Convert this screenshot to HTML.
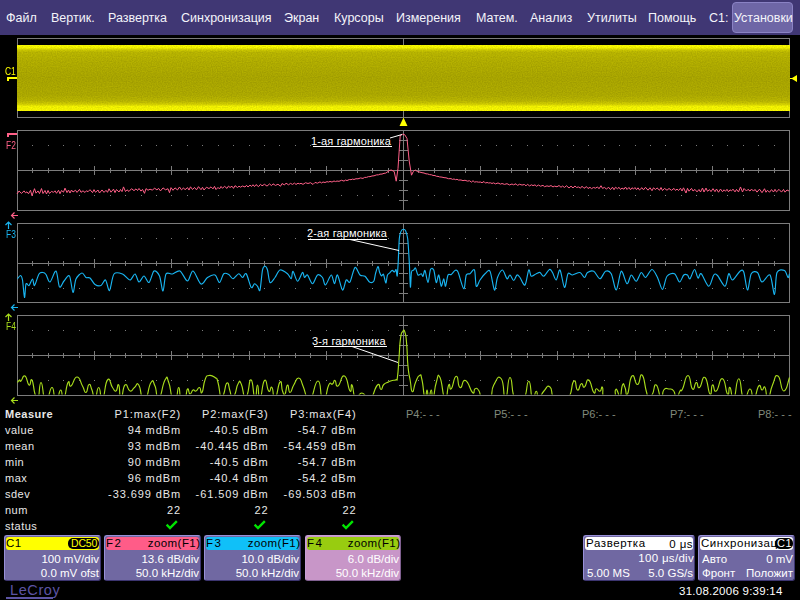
<!DOCTYPE html>
<html><head><meta charset="utf-8">
<style>
html,body{margin:0;padding:0;background:#000;}
body{width:800px;height:600px;position:relative;overflow:hidden;font-family:"Liberation Sans",sans-serif;}
.a{position:absolute;white-space:nowrap;}
#menu{left:0;top:0;width:800px;height:35px;background:#403774;}
.mi{position:absolute;top:10px;font-size:12.5px;color:#f4f4fa;white-space:nowrap;line-height:16px;}
#btn{left:732px;top:2px;width:59px;height:29px;background:#6e66a6;border:1px solid #8a82c4;border-radius:4px;box-sizing:border-box;width:61px;height:31px;}
.lbl{position:absolute;font-size:10.8px;line-height:10px;white-space:nowrap;transform:scaleX(0.78);transform-origin:0 0;}
.ms{position:absolute;font-size:11px;line-height:12px;color:#e8e8e8;white-space:nowrap;letter-spacing:0.5px;}
.r{text-align:right;}
.pn{position:absolute;font-size:11px;line-height:12px;color:#808a7c;white-space:nowrap;}
.box{position:absolute;top:535px;height:46px;background:#7068a2;border-radius:3px;box-sizing:border-box;border:1px solid #9890d8;border-right-color:#3c3570;border-bottom-color:#3c3570;overflow:hidden;}
.hd{position:absolute;left:1px;top:1px;right:1px;height:13px;border-radius:3px;}
.bt{position:absolute;font-size:11.5px;line-height:13px;color:#fff;white-space:nowrap;}
.ht{position:absolute;font-size:11.5px;line-height:13px;color:#000;white-space:nowrap;top:1px;letter-spacing:0.45px;}
</style></head><body>
<div id="menu" class="a"></div>
<div class="mi" style="left:6px">Файл</div>
<div class="mi" style="left:51px">Вертик.</div>
<div class="mi" style="left:108px">Развертка</div>
<div class="mi" style="left:181px">Синхронизация</div>
<div class="mi" style="left:284px">Экран</div>
<div class="mi" style="left:334px">Курсоры</div>
<div class="mi" style="left:396px">Измерения</div>
<div class="mi" style="left:476px">Матем.</div>
<div class="mi" style="left:530px">Анализ</div>
<div class="mi" style="left:587px">Утилиты</div>
<div class="mi" style="left:648px">Помощь</div>
<div class="mi" style="left:709px">C1:</div>
<div id="btn" class="a"></div>
<div class="mi" style="left:734px">Установки</div>

<svg class="a" style="left:0;top:0" width="800" height="600" viewBox="0 0 800 600">
<defs>
<clipPath id="c4"><rect x="17" y="316" width="773" height="78.6"/></clipPath>
<linearGradient id="yg" x1="0" y1="0" x2="0" y2="1">
<stop offset="0" stop-color="#ffff00"/>
<stop offset="0.04" stop-color="#fcfc00"/>
<stop offset="0.075" stop-color="#d4d000"/>
<stop offset="0.11" stop-color="#c0bc00"/>
<stop offset="0.25" stop-color="#b8b400"/>
<stop offset="0.5" stop-color="#b0ac00"/>
<stop offset="0.76" stop-color="#b4b000"/>
<stop offset="0.85" stop-color="#c0bc00"/>
<stop offset="0.9" stop-color="#dcd800"/>
<stop offset="0.93" stop-color="#fafa00"/>
<stop offset="1" stop-color="#ffff00"/>
</linearGradient>
<filter id="nz" x="17" y="45" width="773" height="66" filterUnits="userSpaceOnUse">
<feTurbulence type="fractalNoise" baseFrequency="0.8" numOctaves="1" seed="5"/>
<feColorMatrix type="matrix" values="0 0 0 0 0  0 0 0 0 0  0 0 0 0 0  0.22 0 0 0 -0.06"/>
</filter>
</defs>
<rect x="17.5" y="38.5" width="772" height="79" fill="none" stroke="#7c7c7c" stroke-width="1"/>
<line x1="403.5" y1="38" x2="403.5" y2="117" stroke="#7c7c7c"/>
<rect x="17.5" y="130.5" width="772" height="80" fill="none" stroke="#7c7c7c" stroke-width="1"/>
<line x1="17" y1="170.5" x2="789" y2="170.5" stroke="#7c7c7c"/>
<line x1="32.5" y1="168" x2="32.5" y2="173" stroke="#7c7c7c"/>
<rect x="32" y="145" width="1" height="1" fill="#7c7c7c"/>
<rect x="32" y="195" width="1" height="1" fill="#7c7c7c"/>
<line x1="48.5" y1="168" x2="48.5" y2="173" stroke="#7c7c7c"/>
<rect x="48" y="145" width="1" height="1" fill="#7c7c7c"/>
<rect x="48" y="195" width="1" height="1" fill="#7c7c7c"/>
<line x1="63.5" y1="168" x2="63.5" y2="173" stroke="#7c7c7c"/>
<rect x="63" y="145" width="1" height="1" fill="#7c7c7c"/>
<rect x="63" y="195" width="1" height="1" fill="#7c7c7c"/>
<line x1="79.5" y1="168" x2="79.5" y2="173" stroke="#7c7c7c"/>
<rect x="79" y="145" width="1" height="1" fill="#7c7c7c"/>
<rect x="79" y="195" width="1" height="1" fill="#7c7c7c"/>
<line x1="94.5" y1="166" x2="94.5" y2="175" stroke="#7c7c7c"/>
<rect x="94" y="145" width="1" height="1" fill="#7c7c7c"/>
<rect x="94" y="195" width="1" height="1" fill="#7c7c7c"/>
<line x1="110.5" y1="168" x2="110.5" y2="173" stroke="#7c7c7c"/>
<rect x="110" y="145" width="1" height="1" fill="#7c7c7c"/>
<rect x="110" y="195" width="1" height="1" fill="#7c7c7c"/>
<line x1="125.5" y1="168" x2="125.5" y2="173" stroke="#7c7c7c"/>
<rect x="125" y="145" width="1" height="1" fill="#7c7c7c"/>
<rect x="125" y="195" width="1" height="1" fill="#7c7c7c"/>
<line x1="141.5" y1="168" x2="141.5" y2="173" stroke="#7c7c7c"/>
<rect x="141" y="145" width="1" height="1" fill="#7c7c7c"/>
<rect x="141" y="195" width="1" height="1" fill="#7c7c7c"/>
<line x1="156.5" y1="168" x2="156.5" y2="173" stroke="#7c7c7c"/>
<rect x="156" y="145" width="1" height="1" fill="#7c7c7c"/>
<rect x="156" y="195" width="1" height="1" fill="#7c7c7c"/>
<line x1="171.5" y1="166" x2="171.5" y2="175" stroke="#7c7c7c"/>
<rect x="171" y="145" width="1" height="1" fill="#7c7c7c"/>
<rect x="171" y="195" width="1" height="1" fill="#7c7c7c"/>
<line x1="187.5" y1="168" x2="187.5" y2="173" stroke="#7c7c7c"/>
<rect x="187" y="145" width="1" height="1" fill="#7c7c7c"/>
<rect x="187" y="195" width="1" height="1" fill="#7c7c7c"/>
<line x1="202.5" y1="168" x2="202.5" y2="173" stroke="#7c7c7c"/>
<rect x="202" y="145" width="1" height="1" fill="#7c7c7c"/>
<rect x="202" y="195" width="1" height="1" fill="#7c7c7c"/>
<line x1="218.5" y1="168" x2="218.5" y2="173" stroke="#7c7c7c"/>
<rect x="218" y="145" width="1" height="1" fill="#7c7c7c"/>
<rect x="218" y="195" width="1" height="1" fill="#7c7c7c"/>
<line x1="233.5" y1="168" x2="233.5" y2="173" stroke="#7c7c7c"/>
<rect x="233" y="145" width="1" height="1" fill="#7c7c7c"/>
<rect x="233" y="195" width="1" height="1" fill="#7c7c7c"/>
<line x1="249.5" y1="166" x2="249.5" y2="175" stroke="#7c7c7c"/>
<rect x="249" y="145" width="1" height="1" fill="#7c7c7c"/>
<rect x="249" y="195" width="1" height="1" fill="#7c7c7c"/>
<line x1="264.5" y1="168" x2="264.5" y2="173" stroke="#7c7c7c"/>
<rect x="264" y="145" width="1" height="1" fill="#7c7c7c"/>
<rect x="264" y="195" width="1" height="1" fill="#7c7c7c"/>
<line x1="279.5" y1="168" x2="279.5" y2="173" stroke="#7c7c7c"/>
<rect x="279" y="145" width="1" height="1" fill="#7c7c7c"/>
<rect x="279" y="195" width="1" height="1" fill="#7c7c7c"/>
<line x1="295.5" y1="168" x2="295.5" y2="173" stroke="#7c7c7c"/>
<rect x="295" y="145" width="1" height="1" fill="#7c7c7c"/>
<rect x="295" y="195" width="1" height="1" fill="#7c7c7c"/>
<line x1="310.5" y1="168" x2="310.5" y2="173" stroke="#7c7c7c"/>
<rect x="310" y="145" width="1" height="1" fill="#7c7c7c"/>
<rect x="310" y="195" width="1" height="1" fill="#7c7c7c"/>
<line x1="326.5" y1="166" x2="326.5" y2="175" stroke="#7c7c7c"/>
<rect x="326" y="145" width="1" height="1" fill="#7c7c7c"/>
<rect x="326" y="195" width="1" height="1" fill="#7c7c7c"/>
<line x1="341.5" y1="168" x2="341.5" y2="173" stroke="#7c7c7c"/>
<rect x="341" y="145" width="1" height="1" fill="#7c7c7c"/>
<rect x="341" y="195" width="1" height="1" fill="#7c7c7c"/>
<line x1="357.5" y1="168" x2="357.5" y2="173" stroke="#7c7c7c"/>
<rect x="357" y="145" width="1" height="1" fill="#7c7c7c"/>
<rect x="357" y="195" width="1" height="1" fill="#7c7c7c"/>
<line x1="372.5" y1="168" x2="372.5" y2="173" stroke="#7c7c7c"/>
<rect x="372" y="145" width="1" height="1" fill="#7c7c7c"/>
<rect x="372" y="195" width="1" height="1" fill="#7c7c7c"/>
<line x1="388.5" y1="168" x2="388.5" y2="173" stroke="#7c7c7c"/>
<rect x="388" y="145" width="1" height="1" fill="#7c7c7c"/>
<rect x="388" y="195" width="1" height="1" fill="#7c7c7c"/>
<rect x="403" y="145" width="1" height="1" fill="#7c7c7c"/>
<rect x="403" y="195" width="1" height="1" fill="#7c7c7c"/>
<line x1="418.5" y1="168" x2="418.5" y2="173" stroke="#7c7c7c"/>
<rect x="418" y="145" width="1" height="1" fill="#7c7c7c"/>
<rect x="418" y="195" width="1" height="1" fill="#7c7c7c"/>
<line x1="434.5" y1="168" x2="434.5" y2="173" stroke="#7c7c7c"/>
<rect x="434" y="145" width="1" height="1" fill="#7c7c7c"/>
<rect x="434" y="195" width="1" height="1" fill="#7c7c7c"/>
<line x1="449.5" y1="168" x2="449.5" y2="173" stroke="#7c7c7c"/>
<rect x="449" y="145" width="1" height="1" fill="#7c7c7c"/>
<rect x="449" y="195" width="1" height="1" fill="#7c7c7c"/>
<line x1="465.5" y1="168" x2="465.5" y2="173" stroke="#7c7c7c"/>
<rect x="465" y="145" width="1" height="1" fill="#7c7c7c"/>
<rect x="465" y="195" width="1" height="1" fill="#7c7c7c"/>
<line x1="480.5" y1="166" x2="480.5" y2="175" stroke="#7c7c7c"/>
<rect x="480" y="145" width="1" height="1" fill="#7c7c7c"/>
<rect x="480" y="195" width="1" height="1" fill="#7c7c7c"/>
<line x1="496.5" y1="168" x2="496.5" y2="173" stroke="#7c7c7c"/>
<rect x="496" y="145" width="1" height="1" fill="#7c7c7c"/>
<rect x="496" y="195" width="1" height="1" fill="#7c7c7c"/>
<line x1="511.5" y1="168" x2="511.5" y2="173" stroke="#7c7c7c"/>
<rect x="511" y="145" width="1" height="1" fill="#7c7c7c"/>
<rect x="511" y="195" width="1" height="1" fill="#7c7c7c"/>
<line x1="527.5" y1="168" x2="527.5" y2="173" stroke="#7c7c7c"/>
<rect x="527" y="145" width="1" height="1" fill="#7c7c7c"/>
<rect x="527" y="195" width="1" height="1" fill="#7c7c7c"/>
<line x1="542.5" y1="168" x2="542.5" y2="173" stroke="#7c7c7c"/>
<rect x="542" y="145" width="1" height="1" fill="#7c7c7c"/>
<rect x="542" y="195" width="1" height="1" fill="#7c7c7c"/>
<line x1="557.5" y1="166" x2="557.5" y2="175" stroke="#7c7c7c"/>
<rect x="557" y="145" width="1" height="1" fill="#7c7c7c"/>
<rect x="557" y="195" width="1" height="1" fill="#7c7c7c"/>
<line x1="573.5" y1="168" x2="573.5" y2="173" stroke="#7c7c7c"/>
<rect x="573" y="145" width="1" height="1" fill="#7c7c7c"/>
<rect x="573" y="195" width="1" height="1" fill="#7c7c7c"/>
<line x1="588.5" y1="168" x2="588.5" y2="173" stroke="#7c7c7c"/>
<rect x="588" y="145" width="1" height="1" fill="#7c7c7c"/>
<rect x="588" y="195" width="1" height="1" fill="#7c7c7c"/>
<line x1="604.5" y1="168" x2="604.5" y2="173" stroke="#7c7c7c"/>
<rect x="604" y="145" width="1" height="1" fill="#7c7c7c"/>
<rect x="604" y="195" width="1" height="1" fill="#7c7c7c"/>
<line x1="619.5" y1="168" x2="619.5" y2="173" stroke="#7c7c7c"/>
<rect x="619" y="145" width="1" height="1" fill="#7c7c7c"/>
<rect x="619" y="195" width="1" height="1" fill="#7c7c7c"/>
<line x1="635.5" y1="166" x2="635.5" y2="175" stroke="#7c7c7c"/>
<rect x="635" y="145" width="1" height="1" fill="#7c7c7c"/>
<rect x="635" y="195" width="1" height="1" fill="#7c7c7c"/>
<line x1="650.5" y1="168" x2="650.5" y2="173" stroke="#7c7c7c"/>
<rect x="650" y="145" width="1" height="1" fill="#7c7c7c"/>
<rect x="650" y="195" width="1" height="1" fill="#7c7c7c"/>
<line x1="665.5" y1="168" x2="665.5" y2="173" stroke="#7c7c7c"/>
<rect x="665" y="145" width="1" height="1" fill="#7c7c7c"/>
<rect x="665" y="195" width="1" height="1" fill="#7c7c7c"/>
<line x1="681.5" y1="168" x2="681.5" y2="173" stroke="#7c7c7c"/>
<rect x="681" y="145" width="1" height="1" fill="#7c7c7c"/>
<rect x="681" y="195" width="1" height="1" fill="#7c7c7c"/>
<line x1="696.5" y1="168" x2="696.5" y2="173" stroke="#7c7c7c"/>
<rect x="696" y="145" width="1" height="1" fill="#7c7c7c"/>
<rect x="696" y="195" width="1" height="1" fill="#7c7c7c"/>
<line x1="712.5" y1="166" x2="712.5" y2="175" stroke="#7c7c7c"/>
<rect x="712" y="145" width="1" height="1" fill="#7c7c7c"/>
<rect x="712" y="195" width="1" height="1" fill="#7c7c7c"/>
<line x1="727.5" y1="168" x2="727.5" y2="173" stroke="#7c7c7c"/>
<rect x="727" y="145" width="1" height="1" fill="#7c7c7c"/>
<rect x="727" y="195" width="1" height="1" fill="#7c7c7c"/>
<line x1="743.5" y1="168" x2="743.5" y2="173" stroke="#7c7c7c"/>
<rect x="743" y="145" width="1" height="1" fill="#7c7c7c"/>
<rect x="743" y="195" width="1" height="1" fill="#7c7c7c"/>
<line x1="758.5" y1="168" x2="758.5" y2="173" stroke="#7c7c7c"/>
<rect x="758" y="145" width="1" height="1" fill="#7c7c7c"/>
<rect x="758" y="195" width="1" height="1" fill="#7c7c7c"/>
<line x1="774.5" y1="168" x2="774.5" y2="173" stroke="#7c7c7c"/>
<rect x="774" y="145" width="1" height="1" fill="#7c7c7c"/>
<rect x="774" y="195" width="1" height="1" fill="#7c7c7c"/>
<line x1="403.5" y1="130" x2="403.5" y2="210" stroke="#7c7c7c"/>
<line x1="399" y1="140.5" x2="408" y2="140.5" stroke="#7c7c7c"/>
<line x1="399" y1="150.5" x2="408" y2="150.5" stroke="#7c7c7c"/>
<line x1="399" y1="160.5" x2="408" y2="160.5" stroke="#7c7c7c"/>
<line x1="399" y1="180.5" x2="408" y2="180.5" stroke="#7c7c7c"/>
<line x1="399" y1="190.5" x2="408" y2="190.5" stroke="#7c7c7c"/>
<line x1="399" y1="200.5" x2="408" y2="200.5" stroke="#7c7c7c"/>
<rect x="17.5" y="223.5" width="772" height="79" fill="none" stroke="#7c7c7c" stroke-width="1"/>
<line x1="17" y1="263.5" x2="789" y2="263.5" stroke="#7c7c7c"/>
<line x1="32.5" y1="261" x2="32.5" y2="266" stroke="#7c7c7c"/>
<rect x="32" y="238" width="1" height="1" fill="#7c7c7c"/>
<rect x="32" y="288" width="1" height="1" fill="#7c7c7c"/>
<line x1="48.5" y1="261" x2="48.5" y2="266" stroke="#7c7c7c"/>
<rect x="48" y="238" width="1" height="1" fill="#7c7c7c"/>
<rect x="48" y="288" width="1" height="1" fill="#7c7c7c"/>
<line x1="63.5" y1="261" x2="63.5" y2="266" stroke="#7c7c7c"/>
<rect x="63" y="238" width="1" height="1" fill="#7c7c7c"/>
<rect x="63" y="288" width="1" height="1" fill="#7c7c7c"/>
<line x1="79.5" y1="261" x2="79.5" y2="266" stroke="#7c7c7c"/>
<rect x="79" y="238" width="1" height="1" fill="#7c7c7c"/>
<rect x="79" y="288" width="1" height="1" fill="#7c7c7c"/>
<line x1="94.5" y1="259" x2="94.5" y2="268" stroke="#7c7c7c"/>
<rect x="94" y="238" width="1" height="1" fill="#7c7c7c"/>
<rect x="94" y="288" width="1" height="1" fill="#7c7c7c"/>
<line x1="110.5" y1="261" x2="110.5" y2="266" stroke="#7c7c7c"/>
<rect x="110" y="238" width="1" height="1" fill="#7c7c7c"/>
<rect x="110" y="288" width="1" height="1" fill="#7c7c7c"/>
<line x1="125.5" y1="261" x2="125.5" y2="266" stroke="#7c7c7c"/>
<rect x="125" y="238" width="1" height="1" fill="#7c7c7c"/>
<rect x="125" y="288" width="1" height="1" fill="#7c7c7c"/>
<line x1="141.5" y1="261" x2="141.5" y2="266" stroke="#7c7c7c"/>
<rect x="141" y="238" width="1" height="1" fill="#7c7c7c"/>
<rect x="141" y="288" width="1" height="1" fill="#7c7c7c"/>
<line x1="156.5" y1="261" x2="156.5" y2="266" stroke="#7c7c7c"/>
<rect x="156" y="238" width="1" height="1" fill="#7c7c7c"/>
<rect x="156" y="288" width="1" height="1" fill="#7c7c7c"/>
<line x1="171.5" y1="259" x2="171.5" y2="268" stroke="#7c7c7c"/>
<rect x="171" y="238" width="1" height="1" fill="#7c7c7c"/>
<rect x="171" y="288" width="1" height="1" fill="#7c7c7c"/>
<line x1="187.5" y1="261" x2="187.5" y2="266" stroke="#7c7c7c"/>
<rect x="187" y="238" width="1" height="1" fill="#7c7c7c"/>
<rect x="187" y="288" width="1" height="1" fill="#7c7c7c"/>
<line x1="202.5" y1="261" x2="202.5" y2="266" stroke="#7c7c7c"/>
<rect x="202" y="238" width="1" height="1" fill="#7c7c7c"/>
<rect x="202" y="288" width="1" height="1" fill="#7c7c7c"/>
<line x1="218.5" y1="261" x2="218.5" y2="266" stroke="#7c7c7c"/>
<rect x="218" y="238" width="1" height="1" fill="#7c7c7c"/>
<rect x="218" y="288" width="1" height="1" fill="#7c7c7c"/>
<line x1="233.5" y1="261" x2="233.5" y2="266" stroke="#7c7c7c"/>
<rect x="233" y="238" width="1" height="1" fill="#7c7c7c"/>
<rect x="233" y="288" width="1" height="1" fill="#7c7c7c"/>
<line x1="249.5" y1="259" x2="249.5" y2="268" stroke="#7c7c7c"/>
<rect x="249" y="238" width="1" height="1" fill="#7c7c7c"/>
<rect x="249" y="288" width="1" height="1" fill="#7c7c7c"/>
<line x1="264.5" y1="261" x2="264.5" y2="266" stroke="#7c7c7c"/>
<rect x="264" y="238" width="1" height="1" fill="#7c7c7c"/>
<rect x="264" y="288" width="1" height="1" fill="#7c7c7c"/>
<line x1="279.5" y1="261" x2="279.5" y2="266" stroke="#7c7c7c"/>
<rect x="279" y="238" width="1" height="1" fill="#7c7c7c"/>
<rect x="279" y="288" width="1" height="1" fill="#7c7c7c"/>
<line x1="295.5" y1="261" x2="295.5" y2="266" stroke="#7c7c7c"/>
<rect x="295" y="238" width="1" height="1" fill="#7c7c7c"/>
<rect x="295" y="288" width="1" height="1" fill="#7c7c7c"/>
<line x1="310.5" y1="261" x2="310.5" y2="266" stroke="#7c7c7c"/>
<rect x="310" y="238" width="1" height="1" fill="#7c7c7c"/>
<rect x="310" y="288" width="1" height="1" fill="#7c7c7c"/>
<line x1="326.5" y1="259" x2="326.5" y2="268" stroke="#7c7c7c"/>
<rect x="326" y="238" width="1" height="1" fill="#7c7c7c"/>
<rect x="326" y="288" width="1" height="1" fill="#7c7c7c"/>
<line x1="341.5" y1="261" x2="341.5" y2="266" stroke="#7c7c7c"/>
<rect x="341" y="238" width="1" height="1" fill="#7c7c7c"/>
<rect x="341" y="288" width="1" height="1" fill="#7c7c7c"/>
<line x1="357.5" y1="261" x2="357.5" y2="266" stroke="#7c7c7c"/>
<rect x="357" y="238" width="1" height="1" fill="#7c7c7c"/>
<rect x="357" y="288" width="1" height="1" fill="#7c7c7c"/>
<line x1="372.5" y1="261" x2="372.5" y2="266" stroke="#7c7c7c"/>
<rect x="372" y="238" width="1" height="1" fill="#7c7c7c"/>
<rect x="372" y="288" width="1" height="1" fill="#7c7c7c"/>
<line x1="388.5" y1="261" x2="388.5" y2="266" stroke="#7c7c7c"/>
<rect x="388" y="238" width="1" height="1" fill="#7c7c7c"/>
<rect x="388" y="288" width="1" height="1" fill="#7c7c7c"/>
<rect x="403" y="238" width="1" height="1" fill="#7c7c7c"/>
<rect x="403" y="288" width="1" height="1" fill="#7c7c7c"/>
<line x1="418.5" y1="261" x2="418.5" y2="266" stroke="#7c7c7c"/>
<rect x="418" y="238" width="1" height="1" fill="#7c7c7c"/>
<rect x="418" y="288" width="1" height="1" fill="#7c7c7c"/>
<line x1="434.5" y1="261" x2="434.5" y2="266" stroke="#7c7c7c"/>
<rect x="434" y="238" width="1" height="1" fill="#7c7c7c"/>
<rect x="434" y="288" width="1" height="1" fill="#7c7c7c"/>
<line x1="449.5" y1="261" x2="449.5" y2="266" stroke="#7c7c7c"/>
<rect x="449" y="238" width="1" height="1" fill="#7c7c7c"/>
<rect x="449" y="288" width="1" height="1" fill="#7c7c7c"/>
<line x1="465.5" y1="261" x2="465.5" y2="266" stroke="#7c7c7c"/>
<rect x="465" y="238" width="1" height="1" fill="#7c7c7c"/>
<rect x="465" y="288" width="1" height="1" fill="#7c7c7c"/>
<line x1="480.5" y1="259" x2="480.5" y2="268" stroke="#7c7c7c"/>
<rect x="480" y="238" width="1" height="1" fill="#7c7c7c"/>
<rect x="480" y="288" width="1" height="1" fill="#7c7c7c"/>
<line x1="496.5" y1="261" x2="496.5" y2="266" stroke="#7c7c7c"/>
<rect x="496" y="238" width="1" height="1" fill="#7c7c7c"/>
<rect x="496" y="288" width="1" height="1" fill="#7c7c7c"/>
<line x1="511.5" y1="261" x2="511.5" y2="266" stroke="#7c7c7c"/>
<rect x="511" y="238" width="1" height="1" fill="#7c7c7c"/>
<rect x="511" y="288" width="1" height="1" fill="#7c7c7c"/>
<line x1="527.5" y1="261" x2="527.5" y2="266" stroke="#7c7c7c"/>
<rect x="527" y="238" width="1" height="1" fill="#7c7c7c"/>
<rect x="527" y="288" width="1" height="1" fill="#7c7c7c"/>
<line x1="542.5" y1="261" x2="542.5" y2="266" stroke="#7c7c7c"/>
<rect x="542" y="238" width="1" height="1" fill="#7c7c7c"/>
<rect x="542" y="288" width="1" height="1" fill="#7c7c7c"/>
<line x1="557.5" y1="259" x2="557.5" y2="268" stroke="#7c7c7c"/>
<rect x="557" y="238" width="1" height="1" fill="#7c7c7c"/>
<rect x="557" y="288" width="1" height="1" fill="#7c7c7c"/>
<line x1="573.5" y1="261" x2="573.5" y2="266" stroke="#7c7c7c"/>
<rect x="573" y="238" width="1" height="1" fill="#7c7c7c"/>
<rect x="573" y="288" width="1" height="1" fill="#7c7c7c"/>
<line x1="588.5" y1="261" x2="588.5" y2="266" stroke="#7c7c7c"/>
<rect x="588" y="238" width="1" height="1" fill="#7c7c7c"/>
<rect x="588" y="288" width="1" height="1" fill="#7c7c7c"/>
<line x1="604.5" y1="261" x2="604.5" y2="266" stroke="#7c7c7c"/>
<rect x="604" y="238" width="1" height="1" fill="#7c7c7c"/>
<rect x="604" y="288" width="1" height="1" fill="#7c7c7c"/>
<line x1="619.5" y1="261" x2="619.5" y2="266" stroke="#7c7c7c"/>
<rect x="619" y="238" width="1" height="1" fill="#7c7c7c"/>
<rect x="619" y="288" width="1" height="1" fill="#7c7c7c"/>
<line x1="635.5" y1="259" x2="635.5" y2="268" stroke="#7c7c7c"/>
<rect x="635" y="238" width="1" height="1" fill="#7c7c7c"/>
<rect x="635" y="288" width="1" height="1" fill="#7c7c7c"/>
<line x1="650.5" y1="261" x2="650.5" y2="266" stroke="#7c7c7c"/>
<rect x="650" y="238" width="1" height="1" fill="#7c7c7c"/>
<rect x="650" y="288" width="1" height="1" fill="#7c7c7c"/>
<line x1="665.5" y1="261" x2="665.5" y2="266" stroke="#7c7c7c"/>
<rect x="665" y="238" width="1" height="1" fill="#7c7c7c"/>
<rect x="665" y="288" width="1" height="1" fill="#7c7c7c"/>
<line x1="681.5" y1="261" x2="681.5" y2="266" stroke="#7c7c7c"/>
<rect x="681" y="238" width="1" height="1" fill="#7c7c7c"/>
<rect x="681" y="288" width="1" height="1" fill="#7c7c7c"/>
<line x1="696.5" y1="261" x2="696.5" y2="266" stroke="#7c7c7c"/>
<rect x="696" y="238" width="1" height="1" fill="#7c7c7c"/>
<rect x="696" y="288" width="1" height="1" fill="#7c7c7c"/>
<line x1="712.5" y1="259" x2="712.5" y2="268" stroke="#7c7c7c"/>
<rect x="712" y="238" width="1" height="1" fill="#7c7c7c"/>
<rect x="712" y="288" width="1" height="1" fill="#7c7c7c"/>
<line x1="727.5" y1="261" x2="727.5" y2="266" stroke="#7c7c7c"/>
<rect x="727" y="238" width="1" height="1" fill="#7c7c7c"/>
<rect x="727" y="288" width="1" height="1" fill="#7c7c7c"/>
<line x1="743.5" y1="261" x2="743.5" y2="266" stroke="#7c7c7c"/>
<rect x="743" y="238" width="1" height="1" fill="#7c7c7c"/>
<rect x="743" y="288" width="1" height="1" fill="#7c7c7c"/>
<line x1="758.5" y1="261" x2="758.5" y2="266" stroke="#7c7c7c"/>
<rect x="758" y="238" width="1" height="1" fill="#7c7c7c"/>
<rect x="758" y="288" width="1" height="1" fill="#7c7c7c"/>
<line x1="774.5" y1="261" x2="774.5" y2="266" stroke="#7c7c7c"/>
<rect x="774" y="238" width="1" height="1" fill="#7c7c7c"/>
<rect x="774" y="288" width="1" height="1" fill="#7c7c7c"/>
<line x1="403.5" y1="223" x2="403.5" y2="302" stroke="#7c7c7c"/>
<line x1="399" y1="233.5" x2="408" y2="233.5" stroke="#7c7c7c"/>
<line x1="399" y1="243.5" x2="408" y2="243.5" stroke="#7c7c7c"/>
<line x1="399" y1="253.5" x2="408" y2="253.5" stroke="#7c7c7c"/>
<line x1="399" y1="273.5" x2="408" y2="273.5" stroke="#7c7c7c"/>
<line x1="399" y1="283.5" x2="408" y2="283.5" stroke="#7c7c7c"/>
<line x1="399" y1="293.5" x2="408" y2="293.5" stroke="#7c7c7c"/>
<rect x="17.5" y="315.5" width="772" height="80" fill="none" stroke="#7c7c7c" stroke-width="1"/>
<line x1="17" y1="355.5" x2="789" y2="355.5" stroke="#7c7c7c"/>
<line x1="32.5" y1="353" x2="32.5" y2="358" stroke="#7c7c7c"/>
<rect x="32" y="330" width="1" height="1" fill="#7c7c7c"/>
<rect x="32" y="380" width="1" height="1" fill="#7c7c7c"/>
<line x1="48.5" y1="353" x2="48.5" y2="358" stroke="#7c7c7c"/>
<rect x="48" y="330" width="1" height="1" fill="#7c7c7c"/>
<rect x="48" y="380" width="1" height="1" fill="#7c7c7c"/>
<line x1="63.5" y1="353" x2="63.5" y2="358" stroke="#7c7c7c"/>
<rect x="63" y="330" width="1" height="1" fill="#7c7c7c"/>
<rect x="63" y="380" width="1" height="1" fill="#7c7c7c"/>
<line x1="79.5" y1="353" x2="79.5" y2="358" stroke="#7c7c7c"/>
<rect x="79" y="330" width="1" height="1" fill="#7c7c7c"/>
<rect x="79" y="380" width="1" height="1" fill="#7c7c7c"/>
<line x1="94.5" y1="351" x2="94.5" y2="360" stroke="#7c7c7c"/>
<rect x="94" y="330" width="1" height="1" fill="#7c7c7c"/>
<rect x="94" y="380" width="1" height="1" fill="#7c7c7c"/>
<line x1="110.5" y1="353" x2="110.5" y2="358" stroke="#7c7c7c"/>
<rect x="110" y="330" width="1" height="1" fill="#7c7c7c"/>
<rect x="110" y="380" width="1" height="1" fill="#7c7c7c"/>
<line x1="125.5" y1="353" x2="125.5" y2="358" stroke="#7c7c7c"/>
<rect x="125" y="330" width="1" height="1" fill="#7c7c7c"/>
<rect x="125" y="380" width="1" height="1" fill="#7c7c7c"/>
<line x1="141.5" y1="353" x2="141.5" y2="358" stroke="#7c7c7c"/>
<rect x="141" y="330" width="1" height="1" fill="#7c7c7c"/>
<rect x="141" y="380" width="1" height="1" fill="#7c7c7c"/>
<line x1="156.5" y1="353" x2="156.5" y2="358" stroke="#7c7c7c"/>
<rect x="156" y="330" width="1" height="1" fill="#7c7c7c"/>
<rect x="156" y="380" width="1" height="1" fill="#7c7c7c"/>
<line x1="171.5" y1="351" x2="171.5" y2="360" stroke="#7c7c7c"/>
<rect x="171" y="330" width="1" height="1" fill="#7c7c7c"/>
<rect x="171" y="380" width="1" height="1" fill="#7c7c7c"/>
<line x1="187.5" y1="353" x2="187.5" y2="358" stroke="#7c7c7c"/>
<rect x="187" y="330" width="1" height="1" fill="#7c7c7c"/>
<rect x="187" y="380" width="1" height="1" fill="#7c7c7c"/>
<line x1="202.5" y1="353" x2="202.5" y2="358" stroke="#7c7c7c"/>
<rect x="202" y="330" width="1" height="1" fill="#7c7c7c"/>
<rect x="202" y="380" width="1" height="1" fill="#7c7c7c"/>
<line x1="218.5" y1="353" x2="218.5" y2="358" stroke="#7c7c7c"/>
<rect x="218" y="330" width="1" height="1" fill="#7c7c7c"/>
<rect x="218" y="380" width="1" height="1" fill="#7c7c7c"/>
<line x1="233.5" y1="353" x2="233.5" y2="358" stroke="#7c7c7c"/>
<rect x="233" y="330" width="1" height="1" fill="#7c7c7c"/>
<rect x="233" y="380" width="1" height="1" fill="#7c7c7c"/>
<line x1="249.5" y1="351" x2="249.5" y2="360" stroke="#7c7c7c"/>
<rect x="249" y="330" width="1" height="1" fill="#7c7c7c"/>
<rect x="249" y="380" width="1" height="1" fill="#7c7c7c"/>
<line x1="264.5" y1="353" x2="264.5" y2="358" stroke="#7c7c7c"/>
<rect x="264" y="330" width="1" height="1" fill="#7c7c7c"/>
<rect x="264" y="380" width="1" height="1" fill="#7c7c7c"/>
<line x1="279.5" y1="353" x2="279.5" y2="358" stroke="#7c7c7c"/>
<rect x="279" y="330" width="1" height="1" fill="#7c7c7c"/>
<rect x="279" y="380" width="1" height="1" fill="#7c7c7c"/>
<line x1="295.5" y1="353" x2="295.5" y2="358" stroke="#7c7c7c"/>
<rect x="295" y="330" width="1" height="1" fill="#7c7c7c"/>
<rect x="295" y="380" width="1" height="1" fill="#7c7c7c"/>
<line x1="310.5" y1="353" x2="310.5" y2="358" stroke="#7c7c7c"/>
<rect x="310" y="330" width="1" height="1" fill="#7c7c7c"/>
<rect x="310" y="380" width="1" height="1" fill="#7c7c7c"/>
<line x1="326.5" y1="351" x2="326.5" y2="360" stroke="#7c7c7c"/>
<rect x="326" y="330" width="1" height="1" fill="#7c7c7c"/>
<rect x="326" y="380" width="1" height="1" fill="#7c7c7c"/>
<line x1="341.5" y1="353" x2="341.5" y2="358" stroke="#7c7c7c"/>
<rect x="341" y="330" width="1" height="1" fill="#7c7c7c"/>
<rect x="341" y="380" width="1" height="1" fill="#7c7c7c"/>
<line x1="357.5" y1="353" x2="357.5" y2="358" stroke="#7c7c7c"/>
<rect x="357" y="330" width="1" height="1" fill="#7c7c7c"/>
<rect x="357" y="380" width="1" height="1" fill="#7c7c7c"/>
<line x1="372.5" y1="353" x2="372.5" y2="358" stroke="#7c7c7c"/>
<rect x="372" y="330" width="1" height="1" fill="#7c7c7c"/>
<rect x="372" y="380" width="1" height="1" fill="#7c7c7c"/>
<line x1="388.5" y1="353" x2="388.5" y2="358" stroke="#7c7c7c"/>
<rect x="388" y="330" width="1" height="1" fill="#7c7c7c"/>
<rect x="388" y="380" width="1" height="1" fill="#7c7c7c"/>
<rect x="403" y="330" width="1" height="1" fill="#7c7c7c"/>
<rect x="403" y="380" width="1" height="1" fill="#7c7c7c"/>
<line x1="418.5" y1="353" x2="418.5" y2="358" stroke="#7c7c7c"/>
<rect x="418" y="330" width="1" height="1" fill="#7c7c7c"/>
<rect x="418" y="380" width="1" height="1" fill="#7c7c7c"/>
<line x1="434.5" y1="353" x2="434.5" y2="358" stroke="#7c7c7c"/>
<rect x="434" y="330" width="1" height="1" fill="#7c7c7c"/>
<rect x="434" y="380" width="1" height="1" fill="#7c7c7c"/>
<line x1="449.5" y1="353" x2="449.5" y2="358" stroke="#7c7c7c"/>
<rect x="449" y="330" width="1" height="1" fill="#7c7c7c"/>
<rect x="449" y="380" width="1" height="1" fill="#7c7c7c"/>
<line x1="465.5" y1="353" x2="465.5" y2="358" stroke="#7c7c7c"/>
<rect x="465" y="330" width="1" height="1" fill="#7c7c7c"/>
<rect x="465" y="380" width="1" height="1" fill="#7c7c7c"/>
<line x1="480.5" y1="351" x2="480.5" y2="360" stroke="#7c7c7c"/>
<rect x="480" y="330" width="1" height="1" fill="#7c7c7c"/>
<rect x="480" y="380" width="1" height="1" fill="#7c7c7c"/>
<line x1="496.5" y1="353" x2="496.5" y2="358" stroke="#7c7c7c"/>
<rect x="496" y="330" width="1" height="1" fill="#7c7c7c"/>
<rect x="496" y="380" width="1" height="1" fill="#7c7c7c"/>
<line x1="511.5" y1="353" x2="511.5" y2="358" stroke="#7c7c7c"/>
<rect x="511" y="330" width="1" height="1" fill="#7c7c7c"/>
<rect x="511" y="380" width="1" height="1" fill="#7c7c7c"/>
<line x1="527.5" y1="353" x2="527.5" y2="358" stroke="#7c7c7c"/>
<rect x="527" y="330" width="1" height="1" fill="#7c7c7c"/>
<rect x="527" y="380" width="1" height="1" fill="#7c7c7c"/>
<line x1="542.5" y1="353" x2="542.5" y2="358" stroke="#7c7c7c"/>
<rect x="542" y="330" width="1" height="1" fill="#7c7c7c"/>
<rect x="542" y="380" width="1" height="1" fill="#7c7c7c"/>
<line x1="557.5" y1="351" x2="557.5" y2="360" stroke="#7c7c7c"/>
<rect x="557" y="330" width="1" height="1" fill="#7c7c7c"/>
<rect x="557" y="380" width="1" height="1" fill="#7c7c7c"/>
<line x1="573.5" y1="353" x2="573.5" y2="358" stroke="#7c7c7c"/>
<rect x="573" y="330" width="1" height="1" fill="#7c7c7c"/>
<rect x="573" y="380" width="1" height="1" fill="#7c7c7c"/>
<line x1="588.5" y1="353" x2="588.5" y2="358" stroke="#7c7c7c"/>
<rect x="588" y="330" width="1" height="1" fill="#7c7c7c"/>
<rect x="588" y="380" width="1" height="1" fill="#7c7c7c"/>
<line x1="604.5" y1="353" x2="604.5" y2="358" stroke="#7c7c7c"/>
<rect x="604" y="330" width="1" height="1" fill="#7c7c7c"/>
<rect x="604" y="380" width="1" height="1" fill="#7c7c7c"/>
<line x1="619.5" y1="353" x2="619.5" y2="358" stroke="#7c7c7c"/>
<rect x="619" y="330" width="1" height="1" fill="#7c7c7c"/>
<rect x="619" y="380" width="1" height="1" fill="#7c7c7c"/>
<line x1="635.5" y1="351" x2="635.5" y2="360" stroke="#7c7c7c"/>
<rect x="635" y="330" width="1" height="1" fill="#7c7c7c"/>
<rect x="635" y="380" width="1" height="1" fill="#7c7c7c"/>
<line x1="650.5" y1="353" x2="650.5" y2="358" stroke="#7c7c7c"/>
<rect x="650" y="330" width="1" height="1" fill="#7c7c7c"/>
<rect x="650" y="380" width="1" height="1" fill="#7c7c7c"/>
<line x1="665.5" y1="353" x2="665.5" y2="358" stroke="#7c7c7c"/>
<rect x="665" y="330" width="1" height="1" fill="#7c7c7c"/>
<rect x="665" y="380" width="1" height="1" fill="#7c7c7c"/>
<line x1="681.5" y1="353" x2="681.5" y2="358" stroke="#7c7c7c"/>
<rect x="681" y="330" width="1" height="1" fill="#7c7c7c"/>
<rect x="681" y="380" width="1" height="1" fill="#7c7c7c"/>
<line x1="696.5" y1="353" x2="696.5" y2="358" stroke="#7c7c7c"/>
<rect x="696" y="330" width="1" height="1" fill="#7c7c7c"/>
<rect x="696" y="380" width="1" height="1" fill="#7c7c7c"/>
<line x1="712.5" y1="351" x2="712.5" y2="360" stroke="#7c7c7c"/>
<rect x="712" y="330" width="1" height="1" fill="#7c7c7c"/>
<rect x="712" y="380" width="1" height="1" fill="#7c7c7c"/>
<line x1="727.5" y1="353" x2="727.5" y2="358" stroke="#7c7c7c"/>
<rect x="727" y="330" width="1" height="1" fill="#7c7c7c"/>
<rect x="727" y="380" width="1" height="1" fill="#7c7c7c"/>
<line x1="743.5" y1="353" x2="743.5" y2="358" stroke="#7c7c7c"/>
<rect x="743" y="330" width="1" height="1" fill="#7c7c7c"/>
<rect x="743" y="380" width="1" height="1" fill="#7c7c7c"/>
<line x1="758.5" y1="353" x2="758.5" y2="358" stroke="#7c7c7c"/>
<rect x="758" y="330" width="1" height="1" fill="#7c7c7c"/>
<rect x="758" y="380" width="1" height="1" fill="#7c7c7c"/>
<line x1="774.5" y1="353" x2="774.5" y2="358" stroke="#7c7c7c"/>
<rect x="774" y="330" width="1" height="1" fill="#7c7c7c"/>
<rect x="774" y="380" width="1" height="1" fill="#7c7c7c"/>
<line x1="403.5" y1="315" x2="403.5" y2="395" stroke="#7c7c7c"/>
<line x1="399" y1="325.5" x2="408" y2="325.5" stroke="#7c7c7c"/>
<line x1="399" y1="335.5" x2="408" y2="335.5" stroke="#7c7c7c"/>
<line x1="399" y1="345.5" x2="408" y2="345.5" stroke="#7c7c7c"/>
<line x1="399" y1="365.5" x2="408" y2="365.5" stroke="#7c7c7c"/>
<line x1="399" y1="375.5" x2="408" y2="375.5" stroke="#7c7c7c"/>
<line x1="399" y1="385.5" x2="408" y2="385.5" stroke="#7c7c7c"/>
<rect x="17" y="45" width="773" height="66" fill="url(#yg)"/>
<rect x="17" y="45" width="773" height="66" fill="#000" filter="url(#nz)"/>

<polyline points="17.00,194.00 19.00,190.96 21.50,193.42 24.00,190.87 25.50,192.85 27.00,191.82 28.50,193.79 30.50,190.26 32.00,195.73 34.50,188.68 36.00,193.16 38.00,190.92 39.50,193.59 41.50,188.56 43.00,193.53 45.00,190.49 46.50,193.97 48.00,190.44 49.50,193.41 51.50,191.38 53.50,192.34 55.00,190.81 56.50,193.29 58.50,190.25 60.00,193.72 61.50,190.50 63.50,192.16 65.00,188.13 67.00,192.60 68.50,190.07 70.00,193.04 71.50,190.02 73.00,191.99 75.50,190.24 77.00,192.42 79.50,189.37 81.00,192.34 83.00,190.81 85.00,192.47 86.50,190.74 88.00,191.72 90.00,189.68 92.50,192.64 94.00,189.61 95.50,192.28 98.00,190.04 99.50,193.01 102.00,189.95 104.00,192.40 106.00,190.34 107.50,192.30 109.00,188.77 111.00,192.21 113.50,189.15 115.00,192.61 116.50,189.57 119.00,192.00 120.50,189.47 122.00,191.63 123.50,186.89 125.50,191.53 127.00,189.80 129.00,191.44 131.50,188.68 134.00,190.61 136.00,188.86 137.50,190.52 139.00,188.48 141.00,191.13 142.50,189.39 144.50,193.34 146.00,188.60 148.00,190.25 150.00,189.20 152.50,190.13 154.50,188.08 157.00,190.01 158.50,188.27 160.50,190.92 163.00,187.86 165.50,189.79 168.00,188.73 169.50,192.69 171.00,187.65 173.00,190.30 175.00,187.85 177.50,189.96 179.50,186.98 181.50,189.84 183.50,187.87 185.00,189.73 187.50,187.59 189.00,190.07 190.50,186.79 192.50,189.50 194.50,187.45 196.50,189.83 198.50,186.65 201.00,189.68 202.50,187.28 204.00,190.02 206.50,187.20 209.00,188.58 211.00,186.85 213.00,188.88 214.50,186.37 216.00,189.57 218.00,187.42 219.50,188.93 221.00,186.45 222.50,188.33 224.50,186.27 227.00,188.43 228.50,186.05 230.00,187.48 232.00,186.24 233.50,188.36 235.00,185.70 237.50,187.51 239.00,186.20 240.50,187.18 242.50,186.00 245.00,187.02 246.50,185.29 248.00,187.03 250.00,185.10 251.50,186.47 253.00,184.74 254.50,186.60 256.00,184.58 258.50,186.65 260.50,184.34 262.00,185.79 264.50,184.31 267.00,186.10 269.50,183.95 271.50,185.60 273.00,183.83 275.50,185.41 278.00,184.21 280.50,186.24 282.00,183.53 284.50,184.99 286.00,183.14 288.50,184.81 290.50,183.39 292.50,184.38 294.50,183.11 296.00,184.46 298.00,183.22 299.50,183.84 301.00,183.34 303.00,184.35 305.50,182.74 308.00,183.49 310.50,182.70 313.00,184.45 315.00,182.43 317.50,183.16 320.00,181.86 321.50,182.99 323.00,181.99 325.00,182.51 327.00,181.67 328.50,182.04 330.00,181.43 332.00,182.05 334.00,180.97 335.50,181.59 337.00,181.02 339.00,181.33 341.50,180.26 344.00,181.10 345.50,180.05 347.00,180.57 349.50,179.48 351.00,179.71 352.50,179.11 354.00,179.47 356.00,178.75 358.00,178.84 360.50,177.95 363.00,178.41 364.50,177.41 366.50,177.38 368.50,176.62 370.00,176.67 372.00,175.97 374.00,175.81 376.50,174.92 378.50,174.81 380.00,174.15 382.00,174.07 384.00,173.32 385.50,173.17 386.00,173.00 389.00,170.70 391.20,170.00 394.20,171.50 396.20,181.20 398.00,168.50 400.20,135.50 402.50,134.30 404.70,134.70 407.00,138.50 409.20,161.00 411.50,175.20 413.30,171.50 415.20,170.00 417.50,171.50 422.00,172.70 424.00,173.02 426.00,173.85 427.50,173.90 429.50,174.59 431.50,174.80 433.00,175.45 435.00,175.56 436.50,176.30 438.00,176.38 439.50,176.88 442.00,177.15 444.00,177.66 446.00,177.81 448.50,178.69 451.00,178.63 452.50,179.38 454.00,178.97 455.50,179.67 457.00,179.32 458.50,180.05 461.00,179.97 463.00,180.61 465.00,180.24 467.50,181.11 469.50,180.76 471.50,182.13 473.00,180.69 474.50,182.05 476.50,181.75 478.50,182.16 480.50,182.06 482.00,182.71 484.00,181.53 485.50,183.14 487.00,182.43 488.50,182.97 490.50,182.84 492.00,183.47 493.50,182.87 495.50,183.85 498.00,182.96 500.50,184.10 502.00,183.52 504.50,184.38 507.00,183.68 509.50,184.94 512.00,183.99 513.50,184.79 516.00,183.80 517.50,185.39 519.50,184.26 522.00,185.05 524.50,184.49 526.00,185.87 527.50,184.29 529.50,185.86 531.50,184.81 533.00,185.62 535.00,184.84 536.50,186.24 538.50,185.00 540.50,186.23 543.00,185.34 544.50,186.68 547.00,185.86 549.00,186.44 551.00,185.54 553.00,186.95 554.50,186.16 557.00,186.75 559.00,185.53 561.00,187.27 562.50,186.05 564.50,187.40 566.50,185.74 569.00,188.02 571.00,186.15 573.00,187.91 575.00,185.98 576.50,187.47 578.50,186.96 580.50,188.20 582.00,186.18 584.00,188.34 586.50,186.61 588.00,188.51 590.00,187.34 591.50,188.64 593.50,187.46 595.50,188.16 597.50,186.94 599.00,188.75 601.00,185.71 602.50,188.38 604.50,187.42 606.50,189.15 608.50,187.14 610.50,189.59 612.50,187.20 614.00,189.69 615.50,187.25 617.50,188.71 619.00,187.30 620.50,189.50 622.00,188.07 624.00,189.22 625.50,187.03 627.00,189.44 629.00,187.45 630.50,189.75 632.00,187.72 633.50,189.05 635.00,187.54 636.50,189.66 638.00,187.82 639.50,189.97 642.00,187.65 643.50,189.83 645.50,187.29 648.00,190.19 650.00,187.76 652.00,190.70 653.50,187.82 655.50,189.53 657.00,187.87 659.50,190.22 661.00,187.50 662.50,190.55 664.50,188.42 667.00,190.22 669.00,188.49 671.50,190.33 674.00,188.40 675.50,190.42 677.00,189.08 678.50,190.49 680.50,188.22 682.00,191.03 683.50,187.80 686.00,193.02 687.50,188.33 689.00,191.21 691.50,188.39 693.00,191.02 695.00,189.41 697.00,191.90 699.00,189.49 700.50,191.99 702.50,188.03 704.00,192.04 706.00,188.07 707.50,191.28 709.50,189.61 711.00,191.62 713.00,188.65 715.00,191.67 716.50,188.99 718.50,192.21 720.50,189.03 722.50,191.75 724.00,189.77 725.50,191.29 727.00,189.30 728.50,191.82 730.00,189.84 731.50,190.85 733.00,189.17 735.00,191.89 736.50,189.41 738.50,191.93 740.50,186.96 742.50,191.98 744.00,188.49 746.50,191.02 748.00,189.34 750.00,191.06 751.50,189.08 753.50,191.10 755.00,189.42 757.00,192.14 759.50,189.17 762.00,192.70 764.50,188.72 766.00,192.24 767.50,190.26 769.50,192.28 771.50,189.60 773.50,192.03 775.00,189.34 776.50,191.86 779.00,189.39 781.50,192.12 783.50,189.44 785.00,192.16 787.00,189.98 789.00,191.00" fill="none" stroke="#ff6088" stroke-width="1" stroke-linejoin="round"/>
<path d="M17.50,278.75 C17.95,278.26 19.75,275.31 20.50,275.50 C21.25,275.69 21.90,276.70 22.50,280.00 C23.10,283.30 23.98,296.90 24.50,297.50 C25.02,298.10 25.32,285.80 26.00,284.00 C26.68,282.20 28.02,286.25 29.00,285.50 C29.98,284.75 31.68,279.00 32.50,279.00 C33.33,279.00 33.52,286.25 34.50,285.50 C35.48,284.75 37.73,275.95 39.00,274.00 C40.27,272.05 41.95,272.43 43.00,272.50 C44.05,272.57 44.95,273.07 46.00,274.50 C47.05,275.93 48.50,282.52 50.00,282.00 C51.50,281.48 54.58,270.25 56.00,271.00 C57.42,271.75 58.30,285.50 59.50,287.00 C60.70,288.50 62.50,282.65 64.00,281.00 C65.50,279.35 68.15,274.27 69.50,276.00 C70.85,277.73 72.03,292.05 73.00,292.50 C73.97,292.95 74.65,281.93 76.00,279.00 C77.35,276.07 80.50,273.23 82.00,273.00 C83.50,272.77 84.80,276.75 86.00,277.50 C87.20,278.25 88.65,276.95 90.00,278.00 C91.35,279.05 93.35,283.38 95.00,284.50 C96.65,285.62 99.42,286.18 101.00,285.50 C102.58,284.82 104.22,279.25 105.50,280.00 C106.78,280.75 108.22,291.40 109.50,290.50 C110.78,289.60 112.05,276.48 114.00,274.00 C115.95,271.52 120.10,273.10 122.50,274.00 C124.90,274.90 128.12,280.00 130.00,280.00 C131.88,280.00 133.65,273.70 135.00,274.00 C136.35,274.30 137.65,281.70 139.00,282.00 C140.35,282.30 142.50,275.93 144.00,276.00 C145.50,276.07 147.50,283.25 149.00,282.50 C150.50,281.75 152.43,271.98 154.00,271.00 C155.57,270.02 158.15,273.00 159.50,276.00 C160.85,279.00 162.03,291.30 163.00,291.00 C163.97,290.70 164.57,276.55 166.00,274.00 C167.43,271.45 170.40,274.45 172.50,274.00 C174.60,273.55 177.75,269.95 180.00,271.00 C182.25,272.05 185.55,281.00 187.50,281.00 C189.45,281.00 190.97,270.55 193.00,271.00 C195.03,271.45 198.82,283.02 201.00,284.00 C203.18,284.98 205.40,278.85 207.50,277.50 C209.60,276.15 213.20,274.25 215.00,275.00 C216.80,275.75 218.19,282.69 219.50,282.50 C220.81,282.31 222.36,274.95 223.75,273.75 C225.14,272.55 227.36,273.75 228.75,274.50 C230.14,275.25 231.50,278.86 233.00,278.75 C234.50,278.64 237.32,273.94 238.75,273.75 C240.18,273.56 241.38,277.50 242.50,277.50 C243.62,277.50 244.94,272.25 246.25,273.75 C247.56,275.25 250.01,286.00 251.25,287.50 C252.49,289.00 253.56,283.94 254.50,283.75 C255.44,283.56 256.68,285.31 257.50,286.25 C258.32,287.19 259.25,292.44 260.00,290.00 C260.75,287.56 261.75,273.56 262.50,270.00 C263.25,266.44 264.25,266.25 265.00,266.25 C265.75,266.25 266.75,267.56 267.50,270.00 C268.25,272.44 268.88,281.38 270.00,282.50 C271.12,283.62 273.50,279.38 275.00,277.50 C276.50,275.62 278.12,270.56 280.00,270.00 C281.88,269.44 285.81,272.44 287.50,273.75 C289.19,275.06 290.43,279.12 291.25,278.75 C292.07,278.38 292.06,270.88 293.00,271.25 C293.94,271.62 296.07,281.06 297.50,281.25 C298.93,281.44 301.45,273.06 302.50,272.50 C303.55,271.94 303.75,277.12 304.50,277.50 C305.25,277.88 306.30,274.06 307.50,275.00 C308.70,275.94 311.00,283.75 312.50,283.75 C314.00,283.75 316.00,275.94 317.50,275.00 C319.00,274.06 321.30,276.00 322.50,277.50 C323.70,279.00 324.19,285.38 325.50,285.00 C326.81,284.62 329.90,275.19 331.25,275.00 C332.60,274.81 333.56,283.75 334.50,283.75 C335.44,283.75 336.30,274.06 337.50,275.00 C338.70,275.94 341.19,289.25 342.50,290.00 C343.81,290.75 345.12,281.20 346.25,280.00 C347.38,278.80 348.69,283.88 350.00,282.00 C351.31,280.12 353.50,268.55 355.00,267.50 C356.50,266.45 358.50,273.69 360.00,275.00 C361.50,276.31 363.57,275.20 365.00,276.25 C366.43,277.30 368.19,281.25 369.50,282.00 C370.81,282.75 372.85,282.51 373.75,281.25 C374.65,279.99 374.86,275.81 375.50,273.60 C376.14,271.39 377.40,266.74 378.00,266.50 C378.60,266.26 378.99,270.57 379.50,272.00 C380.01,273.43 380.80,275.64 381.40,276.00 C382.00,276.36 382.84,273.35 383.50,274.40 C384.16,275.45 385.22,282.88 385.80,283.00 C386.38,283.12 386.80,276.73 387.40,275.20 C388.00,273.67 389.08,273.52 389.80,272.80 C390.52,272.08 391.50,270.52 392.20,270.40 C392.90,270.28 393.92,272.12 394.50,272.00 C395.08,271.88 395.70,269.00 396.10,269.60 C396.50,270.20 396.88,277.06 397.20,276.00 C397.51,274.94 397.88,268.08 398.20,262.50 C398.51,256.92 398.90,243.44 399.30,238.80 C399.70,234.17 400.30,233.03 400.90,231.60 C401.50,230.17 402.60,229.42 403.30,229.30 C404.00,229.18 404.94,229.38 405.60,230.80 C406.26,232.23 407.14,234.05 407.70,238.80 C408.25,243.56 408.90,255.27 409.30,262.50 C409.70,269.73 410.07,285.57 410.40,287.00 C410.73,288.43 411.00,274.55 411.50,272.00 C412.00,269.45 413.15,270.60 413.75,270.00 C414.35,269.40 414.86,267.25 415.50,268.00 C416.14,268.75 417.14,274.14 418.00,275.00 C418.86,275.86 420.50,273.56 421.25,273.75 C422.00,273.94 422.44,276.74 423.00,276.25 C423.56,275.76 424.25,269.56 425.00,270.50 C425.75,271.44 427.18,282.65 428.00,282.50 C428.82,282.35 429.64,271.38 430.50,269.50 C431.36,267.62 432.89,268.05 433.75,270.00 C434.61,271.95 435.50,281.75 436.25,282.50 C437.00,283.25 438.00,274.44 438.75,275.00 C439.50,275.56 440.50,285.69 441.25,286.25 C442.00,286.81 443.11,278.75 443.75,278.75 C444.39,278.75 444.86,286.81 445.50,286.25 C446.14,285.69 447.14,276.76 448.00,275.00 C448.86,273.24 450.20,275.18 451.25,274.50 C452.30,273.82 453.99,270.88 455.00,270.50 C456.01,270.12 456.69,269.26 458.00,272.00 C459.31,274.74 462.51,288.30 463.75,288.75 C464.99,289.20 465.31,277.25 466.25,275.00 C467.19,272.75 468.76,274.50 470.00,273.75 C471.24,273.00 473.56,268.12 474.50,270.00 C475.44,271.88 475.43,284.75 476.25,286.25 C477.07,287.75 478.69,281.88 480.00,280.00 C481.31,278.12 483.50,275.06 485.00,273.75 C486.50,272.44 488.57,268.81 490.00,271.25 C491.43,273.69 493.38,289.06 494.50,290.00 C495.62,290.94 496.30,280.50 497.50,277.50 C498.70,274.50 501.07,269.81 502.50,270.00 C503.93,270.19 505.88,278.00 507.00,278.75 C508.12,279.50 508.99,274.74 510.00,275.00 C511.01,275.26 512.70,280.50 513.75,280.50 C514.80,280.50 516.06,275.45 517.00,275.00 C517.94,274.55 518.80,276.00 520.00,277.50 C521.20,279.00 523.69,286.12 525.00,285.00 C526.31,283.88 527.81,271.31 528.75,270.00 C529.69,268.69 530.12,275.69 531.25,276.25 C532.38,276.81 534.94,274.31 536.25,273.75 C537.56,273.19 538.88,272.12 540.00,272.50 C541.12,272.88 542.33,276.70 543.75,276.25 C545.17,275.80 548.19,270.06 549.50,269.50 C550.81,268.94 551.49,270.93 552.50,272.50 C553.51,274.07 555.12,280.38 556.25,280.00 C557.38,279.62 558.76,268.88 560.00,270.00 C561.24,271.12 563.30,286.94 564.50,287.50 C565.70,288.06 566.80,275.62 568.00,273.75 C569.20,271.88 570.70,275.19 572.50,275.00 C574.30,274.81 578.20,272.12 580.00,272.50 C581.80,272.88 583.38,277.50 584.50,277.50 C585.62,277.50 586.11,273.44 587.50,272.50 C588.89,271.56 591.88,270.31 593.75,271.25 C595.62,272.19 598.24,278.75 600.00,278.75 C601.76,278.75 603.81,272.00 605.50,271.25 C607.19,270.50 609.64,270.94 611.25,273.75 C612.86,276.56 614.75,290.38 616.25,290.00 C617.75,289.62 619.64,272.19 621.25,271.25 C622.86,270.31 625.50,283.19 627.00,283.75 C628.50,284.31 629.86,275.38 631.25,275.00 C632.64,274.62 634.75,281.62 636.25,281.25 C637.75,280.88 639.86,273.06 641.25,272.50 C642.64,271.94 643.89,277.95 645.50,277.50 C647.11,277.05 650.20,269.50 652.00,269.50 C653.80,269.50 655.92,274.50 657.50,277.50 C659.08,280.50 661.08,289.69 662.50,289.50 C663.92,289.31 665.20,278.61 667.00,276.25 C668.80,273.89 672.62,272.89 674.50,273.75 C676.38,274.61 678.11,281.81 679.50,282.00 C680.89,282.19 682.55,276.05 683.75,275.00 C684.95,273.95 686.56,274.44 687.50,275.00 C688.44,275.56 688.95,279.57 690.00,278.75 C691.05,277.93 693.30,269.61 694.50,269.50 C695.70,269.39 696.99,277.36 698.00,278.00 C699.01,278.64 699.64,272.51 701.25,273.75 C702.86,274.99 706.88,286.06 708.75,286.25 C710.62,286.44 712.44,276.61 713.75,275.00 C715.06,273.39 715.81,273.81 717.50,275.50 C719.19,277.19 723.31,286.51 725.00,286.25 C726.69,285.99 727.62,274.69 728.75,273.75 C729.88,272.81 730.81,280.38 732.50,280.00 C734.19,279.62 738.31,272.45 740.00,271.25 C741.69,270.05 742.62,269.19 743.75,272.00 C744.88,274.81 746.38,289.74 747.50,290.00 C748.62,290.26 749.75,276.38 751.25,273.75 C752.75,271.12 755.89,271.26 757.50,272.50 C759.11,273.74 760.12,281.62 762.00,282.00 C763.88,282.38 768.12,273.12 770.00,275.00 C771.88,276.88 773.45,294.88 774.50,294.50 C775.55,294.12 775.50,276.10 777.00,272.50 C778.50,268.90 782.85,269.75 784.50,270.50 C786.15,271.25 787.25,277.01 788.00,277.50 C788.75,277.99 789.27,274.31 789.50,273.75" fill="none" stroke="#19b4f0" stroke-width="1.15" stroke-linejoin="round"/>
<path clip-path="url(#c4)" d="M17.50,382.50 C18.10,381.75 18.45,380.45 19.50,380.00 C20.55,379.55 19.35,382.20 21.00,381.00 C22.65,379.80 22.60,374.80 25.00,376.00 C27.40,377.20 26.90,383.80 29.00,385.00 C31.10,386.20 30.20,377.30 32.00,380.00 C33.80,382.70 33.20,388.30 35.00,394.00 C36.80,399.70 36.20,402.45 38.00,399.00 C39.80,395.55 39.05,382.50 41.00,382.50 C42.95,382.50 42.55,394.05 44.50,399.00 C46.45,403.95 45.25,402.45 47.50,399.00 C49.75,395.55 49.75,387.50 52.00,387.50 C54.25,387.50 53.35,395.55 55.00,399.00 C56.65,402.45 55.77,401.70 57.50,399.00 C59.23,396.30 58.88,390.00 60.75,390.00 C62.62,390.00 61.58,401.25 63.75,399.00 C65.92,396.75 65.83,386.40 68.00,382.50 C70.17,378.60 68.30,387.65 71.00,386.00 C73.70,384.35 73.55,377.00 77.00,377.00 C80.45,377.00 79.80,381.35 82.50,386.00 C85.20,390.65 84.05,392.95 86.00,392.50 C87.95,392.05 87.20,385.25 89.00,384.50 C90.80,383.75 90.20,385.65 92.00,390.00 C93.80,394.35 92.97,399.75 95.00,399.00 C97.03,398.25 96.50,387.50 98.75,387.50 C101.00,387.50 99.88,401.25 102.50,399.00 C105.12,396.75 104.50,383.45 107.50,380.00 C110.50,376.55 109.95,384.20 112.50,387.50 C115.05,390.80 114.12,391.75 116.00,391.00 C117.88,390.25 117.25,382.60 118.75,385.00 C120.25,387.40 119.12,399.00 121.00,399.00 C122.88,399.00 122.30,387.40 125.00,385.00 C127.70,382.60 127.15,390.25 130.00,391.00 C132.85,391.75 131.88,389.30 134.50,387.50 C137.12,385.70 136.35,381.55 138.75,385.00 C141.15,388.45 140.32,394.80 142.50,399.00 C144.68,403.20 143.45,403.95 146.00,399.00 C148.55,394.05 148.30,386.40 151.00,382.50 C153.70,378.60 152.68,381.05 155.00,386.00 C157.32,390.95 155.75,400.80 158.75,399.00 C161.75,397.20 162.00,384.95 165.00,380.00 C168.00,375.05 166.50,376.80 168.75,382.50 C171.00,388.20 170.32,394.05 172.50,399.00 C174.68,403.95 174.12,402.45 176.00,399.00 C177.88,395.55 177.25,387.50 178.75,387.50 C180.25,387.50 179.12,395.55 181.00,399.00 C182.88,402.45 183.05,402.00 185.00,399.00 C186.95,396.00 186.00,390.50 187.50,389.00 C189.00,387.50 188.35,393.70 190.00,394.00 C191.65,394.30 191.20,390.90 193.00,390.00 C194.80,389.10 194.05,391.75 196.00,391.00 C197.95,390.25 197.70,387.05 199.50,387.50 C201.30,387.95 200.35,394.75 202.00,392.50 C203.65,390.25 202.97,385.10 205.00,380.00 C207.03,374.90 205.75,376.25 208.75,375.50 C211.75,374.75 212.22,375.40 215.00,377.50 C217.78,379.60 216.12,376.05 218.00,382.50 C219.88,388.95 219.53,395.55 221.25,399.00 C222.97,402.45 222.03,398.80 223.75,394.00 C225.47,389.20 225.12,383.90 227.00,383.00 C228.88,382.10 228.50,386.20 230.00,391.00 C231.50,395.80 230.50,398.10 232.00,399.00 C233.50,399.90 233.20,398.50 235.00,394.00 C236.80,389.50 236.12,387.00 238.00,384.00 C239.88,381.00 239.15,379.50 241.25,384.00 C243.35,388.50 243.12,396.00 245.00,399.00 C246.88,402.00 245.62,399.70 247.50,394.00 C249.38,388.30 249.00,378.50 251.25,380.00 C253.50,381.50 253.12,397.50 255.00,399.00 C256.88,400.50 256.00,385.00 257.50,385.00 C259.00,385.00 257.90,400.35 260.00,399.00 C262.10,397.65 261.88,382.90 264.50,380.50 C267.12,378.10 266.50,388.90 268.75,391.00 C271.00,393.10 270.12,385.10 272.00,387.50 C273.88,389.90 272.60,400.65 275.00,399.00 C277.40,397.35 277.75,384.40 280.00,382.00 C282.25,379.60 281.00,387.40 282.50,391.00 C284.00,394.60 283.50,395.80 285.00,394.00 C286.50,392.20 286.00,385.45 287.50,385.00 C289.00,384.55 288.12,392.50 290.00,392.50 C291.88,392.50 291.12,389.35 293.75,385.00 C296.38,380.65 295.98,377.70 298.75,378.00 C301.52,378.30 300.38,379.70 303.00,386.00 C305.62,392.30 305.10,395.10 307.50,399.00 C309.90,402.90 307.85,404.40 311.00,399.00 C314.15,393.60 314.70,381.00 318.00,381.00 C321.30,381.00 319.90,393.60 322.00,399.00 C324.10,404.40 322.98,403.20 325.00,399.00 C327.02,394.80 326.50,389.50 328.75,385.00 C331.00,380.50 330.62,385.35 332.50,384.00 C334.38,382.65 333.35,379.90 335.00,380.50 C336.65,381.10 335.15,387.35 338.00,386.00 C340.85,384.65 340.90,374.50 344.50,376.00 C348.10,377.50 347.75,388.30 350.00,391.00 C352.25,393.70 350.35,382.60 352.00,385.00 C353.65,387.40 353.10,396.30 355.50,399.00 C357.90,401.70 357.52,395.50 360.00,394.00 C362.48,392.50 361.50,392.50 363.75,394.00 C366.00,395.50 365.32,397.50 367.50,399.00 C369.68,400.50 368.00,403.20 371.00,399.00 C374.00,394.80 374.50,387.85 377.50,385.00 C380.50,382.15 379.12,389.65 381.00,389.50 C382.88,389.35 381.50,386.75 383.75,384.50 C386.00,382.25 385.97,383.20 388.50,382.00 C391.03,380.80 389.95,381.19 392.20,380.50 C394.45,379.81 394.41,380.84 396.00,379.70 C397.59,378.56 396.60,383.21 397.50,376.70 C398.40,370.19 398.10,369.46 399.00,358.00 C399.90,346.54 399.39,346.39 400.50,338.50 C401.61,330.61 401.35,333.50 402.70,331.70 C404.05,329.90 403.80,328.66 405.00,332.50 C406.20,336.34 405.80,334.39 406.70,344.50 C407.60,354.61 406.95,355.40 408.00,366.20 C409.05,377.00 408.88,372.85 410.20,380.50 C411.52,388.15 410.81,391.10 412.40,391.70 C413.99,392.30 413.37,387.36 415.50,382.50 C417.63,377.64 417.55,376.25 419.50,375.50 C421.45,374.75 420.35,372.95 422.00,380.00 C423.65,387.05 423.50,396.00 425.00,399.00 C426.50,402.00 425.88,390.00 427.00,390.00 C428.12,390.00 427.48,399.00 428.75,399.00 C430.02,399.00 429.98,390.00 431.25,390.00 C432.52,390.00 431.50,401.25 433.00,399.00 C434.50,396.75 434.15,388.95 436.25,382.50 C438.35,376.05 437.38,372.55 440.00,377.50 C442.62,382.45 442.38,396.75 445.00,399.00 C447.62,401.25 446.88,388.07 448.75,385.00 C450.62,381.93 449.00,391.38 451.25,388.75 C453.50,386.12 453.62,376.62 456.25,376.25 C458.88,375.88 457.23,386.23 460.00,387.50 C462.77,388.77 461.75,379.00 465.50,380.50 C469.25,382.00 469.65,390.02 472.50,392.50 C475.35,394.98 473.12,389.35 475.00,388.75 C476.88,388.15 476.50,387.43 478.75,390.50 C481.00,393.57 479.12,396.45 482.50,399.00 C485.88,401.55 486.62,403.20 490.00,399.00 C493.38,394.80 490.38,391.07 493.75,385.00 C497.12,378.93 497.73,374.55 501.25,378.75 C504.77,382.95 502.88,399.38 505.50,399.00 C508.12,398.62 507.15,377.50 510.00,377.50 C512.85,377.50 510.88,392.55 515.00,399.00 C519.12,405.45 519.62,404.32 523.75,399.00 C527.88,393.68 526.12,381.25 528.75,381.25 C531.38,381.25 530.25,396.00 532.50,399.00 C534.75,402.00 534.38,391.25 536.25,391.25 C538.12,391.25 536.50,399.00 538.75,399.00 C541.00,399.00 540.38,394.85 543.75,391.25 C547.12,387.65 546.62,384.68 550.00,387.00 C553.38,389.32 549.75,395.40 555.00,399.00 C560.25,402.60 561.88,404.32 567.50,399.00 C573.12,393.68 570.75,383.95 573.75,381.25 C576.75,378.55 575.25,389.25 577.50,390.00 C579.75,390.75 579.15,384.65 581.25,383.75 C583.35,382.85 582.25,388.12 584.50,387.00 C586.75,385.88 585.98,378.35 588.75,380.00 C591.52,381.65 591.50,389.88 593.75,392.50 C596.00,395.12 594.38,389.12 596.25,388.75 C598.12,388.38 598.12,391.62 600.00,391.25 C601.88,390.88 601.15,385.18 602.50,387.50 C603.85,389.82 601.12,395.55 604.50,399.00 C607.88,402.45 610.45,401.70 613.75,399.00 C617.05,396.30 614.23,391.95 615.50,390.00 C616.77,388.05 616.65,389.80 618.00,392.50 C619.35,395.20 618.65,401.25 620.00,399.00 C621.35,396.75 621.00,388.45 622.50,385.00 C624.00,381.55 623.50,384.80 625.00,387.50 C626.50,390.20 625.40,397.45 627.50,394.00 C629.60,390.55 629.00,378.85 632.00,376.00 C635.00,373.15 634.50,384.80 637.50,384.50 C640.50,384.20 639.38,373.05 642.00,375.00 C644.62,376.95 644.23,383.80 646.25,391.00 C648.27,398.20 646.88,398.10 648.75,399.00 C650.62,399.90 650.25,398.20 652.50,394.00 C654.75,389.80 653.62,383.50 656.25,385.00 C658.88,386.50 659.00,397.50 661.25,399.00 C663.50,400.50 661.50,393.00 663.75,390.00 C666.00,387.00 665.75,388.70 668.75,389.00 C671.75,389.30 671.50,388.00 673.75,391.00 C676.00,394.00 674.38,399.00 676.25,399.00 C678.12,399.00 678.12,394.00 680.00,391.00 C681.88,388.00 680.10,393.65 682.50,389.00 C684.90,384.35 685.00,375.50 688.00,375.50 C691.00,375.50 690.02,386.90 692.50,389.00 C694.98,391.10 694.15,382.95 696.25,382.50 C698.35,382.05 696.88,389.00 699.50,387.50 C702.12,386.00 701.85,375.55 705.00,377.50 C708.15,379.45 707.75,391.75 710.00,394.00 C712.25,396.25 710.62,385.90 712.50,385.00 C714.38,384.10 713.25,392.88 716.25,391.00 C719.25,389.12 719.12,377.85 722.50,378.75 C725.88,379.65 725.25,391.38 727.50,394.00 C729.75,396.62 728.12,386.00 730.00,387.50 C731.88,389.00 731.12,401.62 733.75,399.00 C736.38,396.38 735.75,378.75 738.75,378.75 C741.75,378.75 740.38,395.93 743.75,399.00 C747.12,402.07 747.00,389.00 750.00,389.00 C753.00,389.00 751.12,399.90 753.75,399.00 C756.38,398.10 756.27,388.70 758.75,386.00 C761.23,383.30 760.12,389.55 762.00,390.00 C763.88,390.45 763.20,384.80 765.00,387.50 C766.80,390.20 765.75,399.75 768.00,399.00 C770.25,398.25 769.50,391.90 772.50,385.00 C775.50,378.10 774.62,374.20 778.00,376.00 C781.38,377.80 780.30,390.55 783.75,391.00 C787.20,391.45 787.77,381.55 789.50,377.50" fill="none" stroke="#a8dc1c" stroke-width="1.15" stroke-linejoin="round"/>

<!-- markers -->
<polygon points="399.5,126 403.5,117.5 407.5,126" fill="#ffff00"/>
<rect x="7" y="77" width="10" height="2" fill="#ffff00"/><rect x="7" y="77" width="2" height="4" fill="#ffff00"/>
<polygon points="790,78 792,78 797,75 797,82 792,79 790,79" fill="#ffff00"/>
<rect x="7" y="133" width="10" height="2" fill="#ff6088"/><rect x="7" y="133" width="2" height="4" fill="#ff6088"/>
<!-- arrows -->
<g stroke-width="1.2" fill="none">
<path d="M12,215.5 H18 M14.5,212.5 L11.5,215.5 L14.5,218.5" stroke="#ff6088"/>
<path d="M8.5,222 V229 M5.5,225 L8.5,222 L11.5,225" stroke="#19b4f0"/>
<path d="M12,307.5 H18 M14.5,304.5 L11.5,307.5 L14.5,310.5" stroke="#19b4f0"/>
<path d="M8.5,314 V321 M5.5,317 L8.5,314 L11.5,317" stroke="#a8dc1c"/>
<path d="M12,400.5 H18 M14.5,397.5 L11.5,400.5 L14.5,403.5" stroke="#a8dc1c"/>
</g>
<!-- annotations -->
<g stroke="#fff" stroke-width="1">
<line x1="313" y1="146.5" x2="392" y2="146.5"/><line x1="390" y1="138" x2="402" y2="134.5"/>
<line x1="308" y1="239.5" x2="387" y2="239.5"/><line x1="350" y1="239.5" x2="399" y2="250.5"/>
<line x1="314" y1="346.5" x2="387" y2="346.5"/><line x1="352" y1="346.5" x2="398" y2="362.5"/>
</g>
<!-- check marks -->
<g stroke="#00e400" stroke-width="2.4" fill="none" stroke-linecap="square">
<path d="M167.5,525.5 L170,528 L176,522"/>
<path d="M255.5,525.5 L258,528 L264,522"/>
<path d="M343.5,525.5 L346,528 L352,522"/>
</g>
</svg>

<div class="lbl" style="left:5px;top:66px;color:#ffff00">C1</div>
<div class="lbl" style="left:6px;top:140px;color:#ff6088">F2</div>
<div class="lbl" style="left:6px;top:229px;color:#19b4f0">F3</div>
<div class="lbl" style="left:6px;top:321px;color:#a8dc1c">F4</div>

<div class="a" style="left:311px;top:135px;font-size:11px;line-height:12px;color:#fff;letter-spacing:0.15px">1-ая гармоника</div>
<div class="a" style="left:307px;top:227px;font-size:11px;line-height:12px;color:#fff;letter-spacing:0.15px">2-ая гармоника</div>
<div class="a" style="left:312px;top:335px;font-size:11px;line-height:12px;color:#fff;letter-spacing:0.15px">3-я гармоника</div>

<div class="ms" style="left:5px;top:408px;font-weight:bold">Measure</div>
<div class="ms" style="left:5px;top:424px">value</div>
<div class="ms" style="left:5px;top:440px">mean</div>
<div class="ms" style="left:5px;top:456px">min</div>
<div class="ms" style="left:5px;top:472px">max</div>
<div class="ms" style="left:5px;top:488px">sdev</div>
<div class="ms" style="left:5px;top:504px">num</div>
<div class="ms" style="left:5px;top:520px">status</div>
<div class="ms r" style="right:619px;top:408px;letter-spacing:0.9px">P1:max(F2)</div>
<div class="ms r" style="right:531.5px;top:408px;letter-spacing:0.9px">P2:max(F3)</div>
<div class="ms r" style="right:443.5px;top:408px;letter-spacing:0.9px">P3:max(F4)</div>
<div class="ms r" style="right:619px;top:424px;letter-spacing:0.9px">94 mdBm</div>
<div class="ms r" style="right:531.5px;top:424px;letter-spacing:0.9px">-40.5 dBm</div>
<div class="ms r" style="right:443.5px;top:424px;letter-spacing:0.9px">-54.7 dBm</div>
<div class="ms r" style="right:619px;top:440px;letter-spacing:0.9px">93 mdBm</div>
<div class="ms r" style="right:531.5px;top:440px;letter-spacing:0.9px">-40.445 dBm</div>
<div class="ms r" style="right:443.5px;top:440px;letter-spacing:0.9px">-54.459 dBm</div>
<div class="ms r" style="right:619px;top:456px;letter-spacing:0.9px">90 mdBm</div>
<div class="ms r" style="right:531.5px;top:456px;letter-spacing:0.9px">-40.5 dBm</div>
<div class="ms r" style="right:443.5px;top:456px;letter-spacing:0.9px">-54.7 dBm</div>
<div class="ms r" style="right:619px;top:472px;letter-spacing:0.9px">96 mdBm</div>
<div class="ms r" style="right:531.5px;top:472px;letter-spacing:0.9px">-40.4 dBm</div>
<div class="ms r" style="right:443.5px;top:472px;letter-spacing:0.9px">-54.2 dBm</div>
<div class="ms r" style="right:619px;top:488px;letter-spacing:0.9px">-33.699 dBm</div>
<div class="ms r" style="right:531.5px;top:488px;letter-spacing:0.9px">-61.509 dBm</div>
<div class="ms r" style="right:443.5px;top:488px;letter-spacing:0.9px">-69.503 dBm</div>
<div class="ms r" style="right:619px;top:504px;letter-spacing:0.9px">22</div>
<div class="ms r" style="right:531.5px;top:504px;letter-spacing:0.9px">22</div>
<div class="ms r" style="right:443.5px;top:504px;letter-spacing:0.9px">22</div>
<div class="pn" style="left:406px;top:408px">P4:- - -</div>
<div class="pn" style="left:494px;top:408px">P5:- - -</div>
<div class="pn" style="left:582px;top:408px">P6:- - -</div>
<div class="pn" style="left:670px;top:408px">P7:- - -</div>
<div class="pn" style="left:758px;top:408px">P8:- - -</div>

<div class="box" style="left:4px;width:97px">
 <div class="hd" style="background:#ffff00"></div>
 <div class="ht" style="left:1px;top:1px;letter-spacing:0.5px">C1</div>
 <div class="a" style="left:63px;top:2px;width:31px;height:11px;background:#000;border-radius:5px;"></div>
 <div class="ht" style="left:66px;top:1px;color:#ffff00;font-size:10.5px;letter-spacing:-0.2px">DC50</div>
 <div class="bt" style="right:1px;top:17px">100 mV/div</div>
 <div class="bt" style="right:1px;top:31px">0.0 mV ofst</div>
</div>
<div class="box" style="left:104px;width:97px">
 <div class="hd" style="background:#ff5c88"></div>
 <div class="ht" style="left:1px;top:1px;letter-spacing:1.5px">F2</div>
 <div class="ht" style="right:-0.5px;top:1px">zoom(F1)</div>
 <div class="bt" style="right:1px;top:17px">13.6 dB/div</div>
 <div class="bt" style="right:1px;top:31px">50.0 kHz/div</div>
</div>
<div class="box" style="left:204px;width:97px">
 <div class="hd" style="background:#10c0f8"></div>
 <div class="ht" style="left:1px;top:1px;letter-spacing:1.5px">F3</div>
 <div class="ht" style="right:-0.5px;top:1px">zoom(F1)</div>
 <div class="bt" style="right:1px;top:17px">10.0 dB/div</div>
 <div class="bt" style="right:1px;top:31px">50.0 kHz/div</div>
</div>
<div class="box" style="left:305px;width:96px;background:#c896c8;border-color:#c8a0d8;border-right-color:#806090;border-bottom-color:#806090">
 <div class="hd" style="background:#98cc10"></div>
 <div class="ht" style="left:1px;top:1px;letter-spacing:1.5px">F4</div>
 <div class="ht" style="right:-0.5px;top:1px">zoom(F1)</div>
 <div class="bt" style="right:1px;top:17px">6.0 dB/div</div>
 <div class="bt" style="right:1px;top:31px">50.0 kHz/div</div>
</div>
<div class="box" style="left:583px;width:112px">
 <div class="hd" style="background:#fff"></div>
 <div class="ht" style="left:2px;top:1px;letter-spacing:0.6px">Развертка</div>
 <div class="ht" style="right:1px;top:2px">0 μs</div>
 <div class="bt" style="right:0px;top:16px;letter-spacing:0.3px">100 μs/div</div>
 <div class="bt" style="left:3px;top:31px">5.00 MS</div>
 <div class="bt" style="right:1px;top:31px">5.0 GS/s</div>
</div>
<div class="box" style="left:698px;width:97px">
 <div class="hd" style="background:#fff"></div>
 <div class="ht" style="left:2px;top:1px;letter-spacing:0.55px">Синхронизация</div>
 <div class="a" style="left:76px;top:2px;width:18px;height:11px;background:#000;border-radius:5px;"></div>
 <div class="ht" style="left:78px;top:1px;color:#fff;font-size:11px">C1</div>
 <div class="bt" style="left:3px;top:17px">Авто</div>
 <div class="bt" style="right:1px;top:17px">0 mV</div>
 <div class="bt" style="left:3px;top:31px">Фронт</div>
 <div class="bt" style="right:1px;top:31px">Положит</div>
</div>
<div class="a" style="left:10px;top:582px;font-size:14.5px;line-height:17px;color:#5c54a4;letter-spacing:0.6px">LeCroy</div>
<div class="a" style="left:6px;top:597px;width:47px;height:2px;background:#5c54a4"></div>
<div class="a" style="left:679px;top:585px;font-size:11.5px;line-height:12px;color:#fff;letter-spacing:0.25px">31.08.2006 9:39:14</div>
</body></html>
